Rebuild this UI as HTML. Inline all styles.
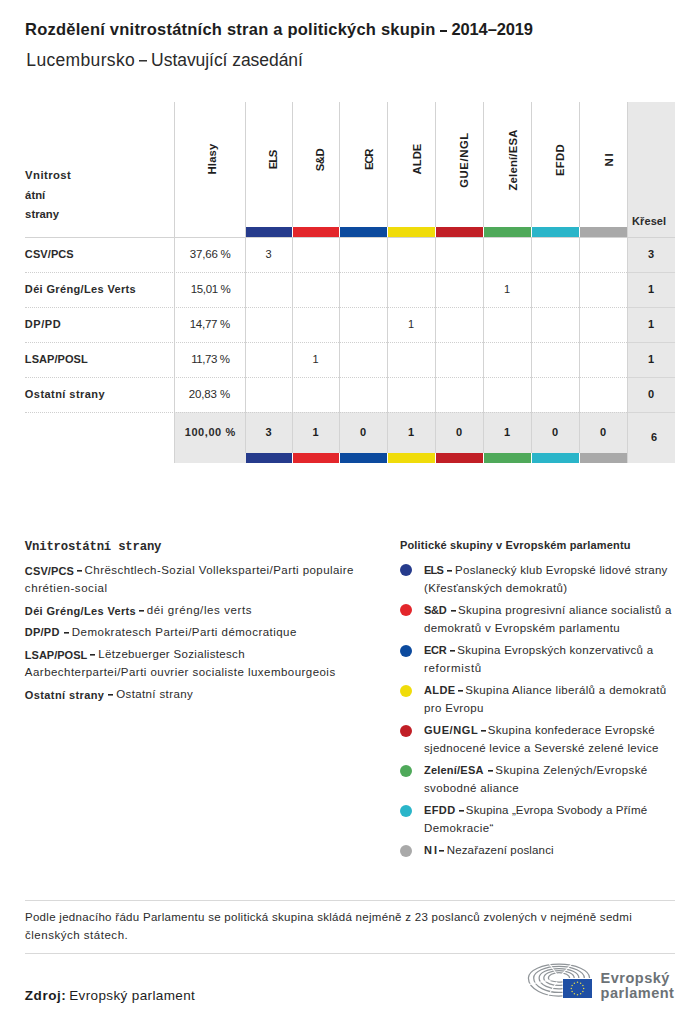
<!DOCTYPE html>
<html><head><meta charset="utf-8">
<style>
*{margin:0;padding:0;box-sizing:border-box}
html,body{width:700px;height:1021px;background:#fff;overflow:hidden}
body{position:relative;font-family:"Liberation Sans",sans-serif;color:#2b2b2b}
.a{position:absolute;white-space:nowrap}
.b,b{font-weight:bold;color:#1e1e1e}
.vl{position:absolute;width:1px;background:#d3d3d3}
.hl{position:absolute;height:1px;background:#d3d3d3}
.dl{position:absolute;height:1px;border-top:1px dotted #cfcfcf}
.g{position:absolute;background:#e8e8e8}
.bar{position:absolute;height:10px}
.rot{position:absolute;transform:rotate(-90deg);white-space:nowrap;font-weight:bold;font-size:11.3px;text-align:center;width:100px;height:14px;line-height:14px;color:#1e1e1e}
.num{position:absolute;text-align:center;font-size:11px;line-height:18px;height:18px}
.dot{position:absolute;width:12px;height:12px;border-radius:50%}
</style></head><body>
<div class="g" style="left:627px;top:102px;width:48px;height:361px"></div>
<div class="g" style="left:174px;top:412px;width:453px;height:51px"></div>
<div class="vl" style="left:174px;top:102px;height:361px"></div>
<div class="vl" style="left:245px;top:102px;height:351px"></div>
<div class="vl" style="left:292px;top:102px;height:351px"></div>
<div class="vl" style="left:339px;top:102px;height:351px"></div>
<div class="vl" style="left:387px;top:102px;height:351px"></div>
<div class="vl" style="left:435px;top:102px;height:351px"></div>
<div class="vl" style="left:483px;top:102px;height:351px"></div>
<div class="vl" style="left:531px;top:102px;height:351px"></div>
<div class="vl" style="left:579px;top:102px;height:351px"></div>
<div class="vl" style="left:627px;top:102px;height:361px"></div>
<div class="hl" style="left:25px;top:237px;width:650px"></div>
<div class="dl" style="left:25px;top:272px;width:602px"></div>
<div class="hl" style="left:628px;top:272px;width:47px;background:#d6d6d6"></div>
<div class="dl" style="left:25px;top:307px;width:602px"></div>
<div class="hl" style="left:628px;top:307px;width:47px;background:#d6d6d6"></div>
<div class="dl" style="left:25px;top:342px;width:602px"></div>
<div class="hl" style="left:628px;top:342px;width:47px;background:#d6d6d6"></div>
<div class="dl" style="left:25px;top:377px;width:602px"></div>
<div class="hl" style="left:628px;top:377px;width:47px;background:#d6d6d6"></div>
<div class="dl" style="left:25px;top:412px;width:602px"></div>
<div class="hl" style="left:628px;top:412px;width:47px;background:#d6d6d6"></div>
<div class="bar" style="left:246px;top:227px;width:46px;background:#263b8c"></div>
<div class="bar" style="left:246px;top:453px;width:46px;background:#263b8c"></div>
<div class="bar" style="left:293px;top:227px;width:46px;background:#e3262b"></div>
<div class="bar" style="left:293px;top:453px;width:46px;background:#e3262b"></div>
<div style="position:absolute;left:292px;top:227px;width:1px;height:10px;background:#fff"></div>
<div style="position:absolute;left:292px;top:453px;width:1px;height:10px;background:#fff"></div>
<div class="bar" style="left:340px;top:227px;width:47px;background:#0c4a9e"></div>
<div class="bar" style="left:340px;top:453px;width:47px;background:#0c4a9e"></div>
<div style="position:absolute;left:339px;top:227px;width:1px;height:10px;background:#fff"></div>
<div style="position:absolute;left:339px;top:453px;width:1px;height:10px;background:#fff"></div>
<div class="bar" style="left:388px;top:227px;width:47px;background:#f0dc0a"></div>
<div class="bar" style="left:388px;top:453px;width:47px;background:#f0dc0a"></div>
<div style="position:absolute;left:387px;top:227px;width:1px;height:10px;background:#fff"></div>
<div style="position:absolute;left:387px;top:453px;width:1px;height:10px;background:#fff"></div>
<div class="bar" style="left:436px;top:227px;width:47px;background:#c11f26"></div>
<div class="bar" style="left:436px;top:453px;width:47px;background:#c11f26"></div>
<div style="position:absolute;left:435px;top:227px;width:1px;height:10px;background:#fff"></div>
<div style="position:absolute;left:435px;top:453px;width:1px;height:10px;background:#fff"></div>
<div class="bar" style="left:484px;top:227px;width:47px;background:#4fa95a"></div>
<div class="bar" style="left:484px;top:453px;width:47px;background:#4fa95a"></div>
<div style="position:absolute;left:483px;top:227px;width:1px;height:10px;background:#fff"></div>
<div style="position:absolute;left:483px;top:453px;width:1px;height:10px;background:#fff"></div>
<div class="bar" style="left:532px;top:227px;width:47px;background:#2ab5c9"></div>
<div class="bar" style="left:532px;top:453px;width:47px;background:#2ab5c9"></div>
<div style="position:absolute;left:531px;top:227px;width:1px;height:10px;background:#fff"></div>
<div style="position:absolute;left:531px;top:453px;width:1px;height:10px;background:#fff"></div>
<div class="bar" style="left:580px;top:227px;width:47px;background:#a9a9a9"></div>
<div class="bar" style="left:580px;top:453px;width:47px;background:#a9a9a9"></div>
<div style="position:absolute;left:579px;top:227px;width:1px;height:10px;background:#fff"></div>
<div style="position:absolute;left:579px;top:453px;width:1px;height:10px;background:#fff"></div>
<div class="rot" style="left:161.62px;top:152.44px;letter-spacing:0.135px">Hlasy</div>
<div class="rot" style="left:223.30px;top:152.92px;letter-spacing:-1.170px">ELS</div>
<div class="rot" style="left:270.14px;top:152.84px;letter-spacing:-0.540px">S&amp;D</div>
<div class="rot" style="left:318.60px;top:153.00px;letter-spacing:-1.260px">ECR</div>
<div class="rot" style="left:366.76px;top:151.72px;letter-spacing:0.000px">ALDE</div>
<div class="rot" style="left:414.28px;top:152.76px;letter-spacing:0.570px">GUE/NGL</div>
<div class="rot" style="left:463.08px;top:152.52px;letter-spacing:0.200px">Zelení/ESA</div>
<div class="rot" style="left:510.44px;top:153.00px;letter-spacing:0.360px">EFDD</div>
<div class="rot" style="left:558.92px;top:151.72px;letter-spacing:1.800px">NI</div>
<div class="num" style="left:245px;top:245px;width:47px">3</div>
<div class="num b" style="left:627px;top:245px;width:48px">3</div>
<div class="num" style="left:483px;top:279.8px;width:48px">1</div>
<div class="num b" style="left:627px;top:279.8px;width:48px">1</div>
<div class="num" style="left:387px;top:314.9px;width:48px">1</div>
<div class="num b" style="left:627px;top:314.9px;width:48px">1</div>
<div class="num" style="left:292px;top:349.6px;width:47px">1</div>
<div class="num b" style="left:627px;top:349.6px;width:48px">1</div>
<div class="num b" style="left:627px;top:384.5px;width:48px">0</div>
<div class="num b" style="left:245px;top:423px;width:47px">3</div>
<div class="num b" style="left:292px;top:423px;width:47px">1</div>
<div class="num b" style="left:339px;top:423px;width:48px">0</div>
<div class="num b" style="left:387px;top:423px;width:48px">1</div>
<div class="num b" style="left:435px;top:423px;width:48px">0</div>
<div class="num b" style="left:483px;top:423px;width:48px">1</div>
<div class="num b" style="left:531px;top:423px;width:48px">0</div>
<div class="num b" style="left:579px;top:423px;width:48px">0</div>
<div class="num b" style="left:630px;top:428px;width:48px">6</div>
<div class="dot" style="left:400px;top:564.3000000000001px;background:#263b8c"></div>
<div class="dot" style="left:400px;top:604.4000000000001px;background:#e3262b"></div>
<div class="dot" style="left:400px;top:644.5000000000001px;background:#0c4a9e"></div>
<div class="dot" style="left:400px;top:684.6000000000001px;background:#f0dc0a"></div>
<div class="dot" style="left:400px;top:724.7px;background:#c11f26"></div>
<div class="dot" style="left:400px;top:764.8000000000001px;background:#4fa95a"></div>
<div class="dot" style="left:400px;top:804.9000000000001px;background:#2ab5c9"></div>
<div class="dot" style="left:400px;top:845.0px;background:#a9a9a9"></div>
<div style="position:absolute;left:440.20px;top:30.30px;width:6.40px;height:2.0px;background:#1d1d1d"></div>
<div style="position:absolute;left:139px;top:60px;width:8px;height:1px;background:#333;box-shadow:0 1px 0 rgba(40,40,40,0.50)"></div>
<div style="position:absolute;left:77px;top:570px;width:5px;height:1px;background:#262626;box-shadow:0 1px 0 rgba(40,40,40,0.60)"></div>
<div style="position:absolute;left:139px;top:610px;width:5px;height:1px;background:#262626;box-shadow:0 1px 0 rgba(40,40,40,0.60)"></div>
<div style="position:absolute;left:64px;top:632px;width:5px;height:1px;background:#262626;box-shadow:0 1px 0 rgba(40,40,40,0.60)"></div>
<div style="position:absolute;left:90px;top:654px;width:5px;height:1px;background:#262626;box-shadow:0 1px 0 rgba(40,40,40,0.60)"></div>
<div style="position:absolute;left:108px;top:694px;width:5px;height:1px;background:#262626;box-shadow:0 1px 0 rgba(40,40,40,0.60)"></div>
<div style="position:absolute;left:447px;top:570px;width:5px;height:1px;background:#262626;box-shadow:0 1px 0 rgba(40,40,40,0.60)"></div>
<div style="position:absolute;left:451px;top:610px;width:5px;height:1px;background:#262626;box-shadow:0 1px 0 rgba(40,40,40,0.60)"></div>
<div style="position:absolute;left:450px;top:650px;width:5px;height:1px;background:#262626;box-shadow:0 1px 0 rgba(40,40,40,0.60)"></div>
<div style="position:absolute;left:458px;top:690px;width:5px;height:1px;background:#262626;box-shadow:0 1px 0 rgba(40,40,40,0.60)"></div>
<div style="position:absolute;left:481px;top:730px;width:5px;height:1px;background:#262626;box-shadow:0 1px 0 rgba(40,40,40,0.60)"></div>
<div style="position:absolute;left:488px;top:770px;width:5px;height:1px;background:#262626;box-shadow:0 1px 0 rgba(40,40,40,0.60)"></div>
<div style="position:absolute;left:459px;top:810px;width:5px;height:1px;background:#262626;box-shadow:0 1px 0 rgba(40,40,40,0.60)"></div>
<div style="position:absolute;left:439px;top:850px;width:5px;height:1px;background:#262626;box-shadow:0 1px 0 rgba(40,40,40,0.60)"></div>
<div class="hl" style="left:25px;top:900px;width:650px;background:#d9d9d9"></div>
<div class="hl" style="left:25px;top:953px;width:650px;background:#d9d9d9"></div>
<div class="a" id="title1" style="left:25.10px;top:18.98px;font-size:16.5px;line-height:20px;font-family:'Liberation Sans',sans-serif;letter-spacing:0.227px;font-weight:bold;color:#1d1d1d">Rozdělení vnitrostátních stran a politických skupin</div>
<div class="a" id="title2" style="left:451.43px;top:18.98px;font-size:16.5px;line-height:20px;font-family:'Liberation Sans',sans-serif;letter-spacing:-0.124px;font-weight:bold;color:#1d1d1d">2014–2019</div>
<div class="a" id="sub1" style="left:26.34px;top:49.54px;font-size:17.5px;line-height:20px;font-family:'Liberation Sans',sans-serif;letter-spacing:0.333px;color:#2a2a2a">Lucembursko</div>
<div class="a" id="sub2" style="left:151.10px;top:49.54px;font-size:17.5px;line-height:20px;font-family:'Liberation Sans',sans-serif;letter-spacing:-0.050px;color:#2a2a2a">Ustavující zasedání</div>
<div class="a" id="h1" style="left:25.12px;top:164.98px;font-size:11.3px;line-height:20px;font-family:'Liberation Sans',sans-serif;letter-spacing:0.437px;font-weight:bold">Vnitrost</div>
<div class="a" id="h2" style="left:25.12px;top:184.68px;font-size:11.3px;line-height:20px;font-family:'Liberation Sans',sans-serif;letter-spacing:0.000px;font-weight:bold">átní</div>
<div class="a" id="h3" style="left:25.12px;top:204.38px;font-size:11.3px;line-height:20px;font-family:'Liberation Sans',sans-serif;letter-spacing:0.000px;font-weight:bold">strany</div>
<div class="a" id="kres" style="left:631.98px;top:211.09px;font-size:11px;line-height:20px;font-family:'Liberation Sans',sans-serif;letter-spacing:0.108px;font-weight:bold">Křesel</div>
<div class="a" id="rn0" style="left:24.86px;top:244.19px;font-size:11px;line-height:20px;font-family:'Liberation Sans',sans-serif;letter-spacing:0.090px;font-weight:bold">CSV/PCS</div>
<div class="a" id="rn1" style="left:24.86px;top:278.99px;font-size:11px;line-height:20px;font-family:'Liberation Sans',sans-serif;letter-spacing:0.350px;font-weight:bold">Déi Gréng/Les Verts</div>
<div class="a" id="rn2" style="left:24.86px;top:314.09px;font-size:11px;line-height:20px;font-family:'Liberation Sans',sans-serif;letter-spacing:0.540px;font-weight:bold">DP/PD</div>
<div class="a" id="rn3" style="left:24.86px;top:348.79px;font-size:11px;line-height:20px;font-family:'Liberation Sans',sans-serif;letter-spacing:0.068px;font-weight:bold">LSAP/POSL</div>
<div class="a" id="rn4" style="left:24.86px;top:383.69px;font-size:11px;line-height:20px;font-family:'Liberation Sans',sans-serif;letter-spacing:0.443px;font-weight:bold">Ostatní strany</div>
<div class="a" id="rp0" style="left:189.86px;top:244.02px;font-size:11.5px;line-height:20px;font-family:'Liberation Sans',sans-serif;letter-spacing:-0.210px">37,66 %</div>
<div class="a" id="rp1" style="left:190.84px;top:278.82px;font-size:11.5px;line-height:20px;font-family:'Liberation Sans',sans-serif;letter-spacing:-0.390px">15,01 %</div>
<div class="a" id="rp2" style="left:189.72px;top:313.92px;font-size:11.5px;line-height:20px;font-family:'Liberation Sans',sans-serif;letter-spacing:-0.270px">14,77 %</div>
<div class="a" id="rp3" style="left:191.22px;top:348.62px;font-size:11.5px;line-height:20px;font-family:'Liberation Sans',sans-serif;letter-spacing:-0.420px">11,73 %</div>
<div class="a" id="rp4" style="left:188.72px;top:383.52px;font-size:11.5px;line-height:20px;font-family:'Liberation Sans',sans-serif;letter-spacing:-0.120px">20,83 %</div>
<div class="a" id="tot" style="left:184.72px;top:422.09px;font-size:11px;line-height:20px;font-family:'Liberation Sans',sans-serif;letter-spacing:0.566px;font-weight:bold">100,00 %</div>
<div class="a" id="lh" style="left:24.86px;top:536.52px;font-size:12.3px;line-height:20px;font-family:'Liberation Mono',monospace;letter-spacing:-0.200px;font-weight:bold">Vnitrostátní strany</div>
<div class="a" id="l1B" style="left:24.86px;top:560.59px;font-size:11px;line-height:20px;font-family:'Liberation Sans',sans-serif;letter-spacing:0.120px;font-weight:bold">CSV/PCS</div>
<div class="a" id="l1" style="left:84.60px;top:560.42px;font-size:11.5px;line-height:20px;font-family:'Liberation Sans',sans-serif;letter-spacing:0.435px">Chrëschtlech-Sozial Vollekspartei/Parti populaire</div>
<div class="a" id="l2" style="left:24.86px;top:577.92px;font-size:11.5px;line-height:20px;font-family:'Liberation Sans',sans-serif;letter-spacing:0.579px">chrétien-social</div>
<div class="a" id="l3B" style="left:24.86px;top:600.59px;font-size:11px;line-height:20px;font-family:'Liberation Sans',sans-serif;letter-spacing:0.350px;font-weight:bold">Déi Gréng/Les Verts</div>
<div class="a" id="l3" style="left:146.86px;top:600.42px;font-size:11.5px;line-height:20px;font-family:'Liberation Sans',sans-serif;letter-spacing:0.590px">déi gréng/les verts</div>
<div class="a" id="l4B" style="left:24.86px;top:622.39px;font-size:11px;line-height:20px;font-family:'Liberation Sans',sans-serif;letter-spacing:0.225px;font-weight:bold">DP/PD</div>
<div class="a" id="l4" style="left:71.84px;top:622.22px;font-size:11.5px;line-height:20px;font-family:'Liberation Sans',sans-serif;letter-spacing:0.472px">Demokratesch Partei/Parti démocratique</div>
<div class="a" id="l5B" style="left:24.86px;top:644.59px;font-size:11px;line-height:20px;font-family:'Liberation Sans',sans-serif;letter-spacing:0.000px;font-weight:bold">LSAP/POSL</div>
<div class="a" id="l5" style="left:98.36px;top:644.42px;font-size:11.5px;line-height:20px;font-family:'Liberation Sans',sans-serif;letter-spacing:0.324px">Lëtzebuerger Sozialistesch</div>
<div class="a" id="l6" style="left:24.86px;top:662.22px;font-size:11.5px;line-height:20px;font-family:'Liberation Sans',sans-serif;letter-spacing:0.458px">Aarbechterpartei/Parti ouvrier socialiste luxembourgeois</div>
<div class="a" id="l7B" style="left:24.86px;top:684.59px;font-size:11px;line-height:20px;font-family:'Liberation Sans',sans-serif;letter-spacing:0.388px;font-weight:bold">Ostatní strany</div>
<div class="a" id="l7" style="left:116.24px;top:684.42px;font-size:11.5px;line-height:20px;font-family:'Liberation Sans',sans-serif;letter-spacing:0.374px">Ostatní strany</div>
<div class="a" id="rh" style="left:399.98px;top:534.59px;font-size:11px;line-height:20px;font-family:'Liberation Sans',sans-serif;letter-spacing:0.175px;font-weight:bold">Politické skupiny v Evropském parlamentu</div>
<div class="a" id="r0aB" style="left:423.98px;top:559.79px;font-size:11px;line-height:20px;font-family:'Liberation Sans',sans-serif;letter-spacing:-0.720px;font-weight:bold">ELS</div>
<div class="a" id="r0a" style="left:455.10px;top:559.62px;font-size:11.5px;line-height:20px;font-family:'Liberation Sans',sans-serif;letter-spacing:0.277px">Poslanecký klub Evropské lidové strany</div>
<div class="a" id="r0b" style="left:423.98px;top:577.82px;font-size:11.5px;line-height:20px;font-family:'Liberation Sans',sans-serif;letter-spacing:0.337px">(Křesťanských demokratů)</div>
<div class="a" id="r1aB" style="left:423.98px;top:599.89px;font-size:11px;line-height:20px;font-family:'Liberation Sans',sans-serif;letter-spacing:-0.270px;font-weight:bold">S&amp;D</div>
<div class="a" id="r1a" style="left:458.10px;top:599.72px;font-size:11.5px;line-height:20px;font-family:'Liberation Sans',sans-serif;letter-spacing:0.305px">Skupina progresivní aliance socialistů a</div>
<div class="a" id="r1b" style="left:423.98px;top:617.92px;font-size:11.5px;line-height:20px;font-family:'Liberation Sans',sans-serif;letter-spacing:0.354px">demokratů v Evropském parlamentu</div>
<div class="a" id="r2aB" style="left:423.98px;top:639.99px;font-size:11px;line-height:20px;font-family:'Liberation Sans',sans-serif;letter-spacing:-0.270px;font-weight:bold">ECR</div>
<div class="a" id="r2a" style="left:457.34px;top:639.82px;font-size:11.5px;line-height:20px;font-family:'Liberation Sans',sans-serif;letter-spacing:0.256px">Skupina Evropských konzervativců a</div>
<div class="a" id="r2b" style="left:423.98px;top:658.02px;font-size:11.5px;line-height:20px;font-family:'Liberation Sans',sans-serif;letter-spacing:0.680px">reformistů</div>
<div class="a" id="r3aB" style="left:423.98px;top:679.59px;font-size:11px;line-height:20px;font-family:'Liberation Sans',sans-serif;letter-spacing:0.420px;font-weight:bold">ALDE</div>
<div class="a" id="r3a" style="left:465.22px;top:679.92px;font-size:11.5px;line-height:20px;font-family:'Liberation Sans',sans-serif;letter-spacing:0.334px">Skupina Aliance liberálů a demokratů</div>
<div class="a" id="r3b" style="left:423.98px;top:698.12px;font-size:11.5px;line-height:20px;font-family:'Liberation Sans',sans-serif;letter-spacing:0.360px">pro Evropu</div>
<div class="a" id="r4aB" style="left:423.98px;top:720.19px;font-size:11px;line-height:20px;font-family:'Liberation Sans',sans-serif;letter-spacing:0.600px;font-weight:bold">GUE/NGL</div>
<div class="a" id="r4a" style="left:487.84px;top:720.02px;font-size:11.5px;line-height:20px;font-family:'Liberation Sans',sans-serif;letter-spacing:0.287px">Skupina konfederace Evropské</div>
<div class="a" id="r4b" style="left:423.98px;top:738.22px;font-size:11.5px;line-height:20px;font-family:'Liberation Sans',sans-serif;letter-spacing:0.307px">sjednocené levice a Severské zelené levice</div>
<div class="a" id="r5aB" style="left:423.98px;top:760.29px;font-size:11px;line-height:20px;font-family:'Liberation Sans',sans-serif;letter-spacing:0.220px;font-weight:bold">Zelení/ESA</div>
<div class="a" id="r5a" style="left:495.34px;top:760.12px;font-size:11.5px;line-height:20px;font-family:'Liberation Sans',sans-serif;letter-spacing:0.390px">Skupina Zelených/Evropské</div>
<div class="a" id="r5b" style="left:423.98px;top:778.32px;font-size:11.5px;line-height:20px;font-family:'Liberation Sans',sans-serif;letter-spacing:0.348px">svobodné aliance</div>
<div class="a" id="r6aB" style="left:423.98px;top:800.39px;font-size:11px;line-height:20px;font-family:'Liberation Sans',sans-serif;letter-spacing:0.420px;font-weight:bold">EFDD</div>
<div class="a" id="r6a" style="left:465.84px;top:800.22px;font-size:11.5px;line-height:20px;font-family:'Liberation Sans',sans-serif;letter-spacing:0.162px">Skupina „Evropa Svobody a Přímé</div>
<div class="a" id="r6b" style="left:423.98px;top:818.42px;font-size:11.5px;line-height:20px;font-family:'Liberation Sans',sans-serif;letter-spacing:0.414px">Demokracie“</div>
<div class="a" id="r7aB" style="left:423.98px;top:840.49px;font-size:11px;line-height:20px;font-family:'Liberation Sans',sans-serif;letter-spacing:2.160px;font-weight:bold">NI</div>
<div class="a" id="r7a" style="left:446.72px;top:840.32px;font-size:11.5px;line-height:20px;font-family:'Liberation Sans',sans-serif;letter-spacing:0.150px">Nezařazení poslanci</div>
<div class="a" id="f1" style="left:24.98px;top:906.82px;font-size:11.5px;line-height:20px;font-family:'Liberation Sans',sans-serif;letter-spacing:0.290px">Podle jednacího řádu Parlamentu se politická skupina skládá nejméně z 23 poslanců zvolených v nejméně sedmi</div>
<div class="a" id="f2" style="left:24.98px;top:924.72px;font-size:11.5px;line-height:20px;font-family:'Liberation Sans',sans-serif;letter-spacing:0.519px">členských státech.</div>
<div class="a" id="zdB" style="left:24.74px;top:985.82px;font-size:13.5px;line-height:20px;font-family:'Liberation Sans',sans-serif;letter-spacing:0.576px;font-weight:bold;color:#1d1d1d">Zdroj:</div>
<div class="a" id="zd" style="left:69.22px;top:985.82px;font-size:13.5px;line-height:20px;font-family:'Liberation Sans',sans-serif;letter-spacing:0.371px;color:#1d1d1d">Evropský parlament</div>
<svg style="position:absolute;left:525px;top:958px" width="155" height="47" viewBox="0 0 155 47">
<g fill="none" stroke="#8f9498" stroke-width="1.25">
<path d="M64.60,20.00 A30.60,13.80 0 0 0 3.40,20.00 A30.60,18.00 0 0 0 37.50,37.88"/><path d="M59.30,20.00 A25.30,11.60 0 0 0 8.70,20.00 A25.30,14.40 0 0 0 37.50,34.26"/><path d="M53.90,20.00 A19.90,9.50 0 0 0 14.10,20.00 A19.90,10.90 0 0 0 37.50,30.73"/><path d="M49.20,20.00 A15.20,7.40 0 0 0 18.80,20.00 A15.20,7.40 0 0 0 37.50,27.20"/><path d="M44.60,20.00 A10.60,5.40 0 0 0 23.40,20.00 A10.60,4.00 0 0 0 37.50,23.78"/>
</g>
<g stroke="#fff" stroke-width="1.1"><line x1="36.82" y1="16.47" x2="49.96" y2="2.34"/><line x1="31.75" y1="16.29" x2="21.26" y2="1.46"/><line x1="28.36" y1="21.37" x2="2.05" y2="26.84"/><line x1="31.95" y1="23.76" x2="22.37" y2="38.79"/></g>
<rect x="38" y="21" width="29" height="19" fill="#1f4fa4"/>
<g fill="#e3d94a"><circle cx="52.50" cy="24.30" r="0.75"/><circle cx="55.60" cy="25.13" r="0.75"/><circle cx="57.87" cy="27.40" r="0.75"/><circle cx="58.70" cy="30.50" r="0.75"/><circle cx="57.87" cy="33.60" r="0.75"/><circle cx="55.60" cy="35.87" r="0.75"/><circle cx="52.50" cy="36.70" r="0.75"/><circle cx="49.40" cy="35.87" r="0.75"/><circle cx="47.13" cy="33.60" r="0.75"/><circle cx="46.30" cy="30.50" r="0.75"/><circle cx="47.13" cy="27.40" r="0.75"/><circle cx="49.40" cy="25.13" r="0.75"/></g>
<text x="75.6" y="24.600000000000023" font-family="Liberation Sans" font-weight="bold" font-size="14.5" letter-spacing="0.5" fill="#6c7276">Evropský</text>
<text x="75.6" y="39.799999999999955" font-family="Liberation Sans" font-weight="bold" font-size="14.5" letter-spacing="0.5" fill="#6c7276">parlament</text>
</svg>
</body></html>
